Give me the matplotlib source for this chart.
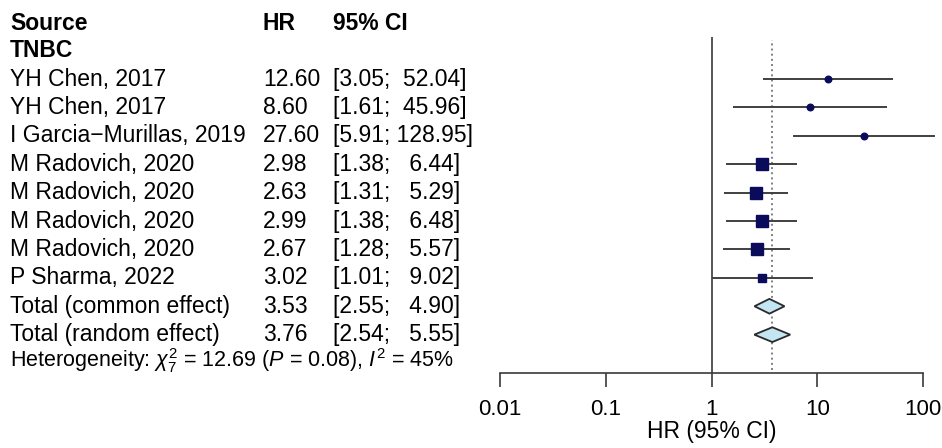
import numpy as np
import matplotlib.pyplot as plt
from matplotlib.ticker import FixedLocator, FixedFormatter, NullLocator
from matplotlib.transforms import blended_transform_factory

plt.rcParams['font.family'] = ['Liberation Sans', 'DejaVu Sans']
plt.rcParams['mathtext.fontset'] = 'custom'
plt.rcParams['mathtext.rm'] = 'Liberation Sans'
plt.rcParams['mathtext.it'] = 'Liberation Sans:italic'

# study-level estimates
studies = ["YH Chen, 2017", "YH Chen, 2017", "I Garcia\u2212Murillas, 2019",
           "M Radovich, 2020", "M Radovich, 2020", "M Radovich, 2020",
           "M Radovich, 2020", "P Sharma, 2022"]
hr = [12.60, 8.60, 27.60, 2.98, 2.63, 2.99, 2.67, 3.02]
lower = [3.05, 1.61, 5.91, 1.38, 1.31, 1.38, 1.28, 1.01]
upper = [52.04, 45.96, 128.95, 6.44, 5.29, 6.48, 5.57, 9.02]
weights = [6.0, 6.0, 6.0, 18.5, 18.5, 18.5, 18.5, 8.0]

# pooled estimates
pooled_labels = ["Total (common effect)", "Total (random effect)"]
pooled_hr = [3.53, 3.76]
pooled_lower = [2.55, 2.54]
pooled_upper = [4.90, 5.55]

heterogeneity = r"Heterogeneity: $\chi^2_7$ = 12.69 ($P$ = 0.08), $I^2$ = 45%"

ticks = [0.01, 0.1, 1, 10, 100]
tick_labels = ["0.01", "0.1", "1", "10", "100"]

line_col = "#3a3a3a"
fs = 16.5

fig = plt.figure(figsize=(9.42, 4.48), dpi=100)
ax = fig.add_axes([500 / 942, 1 - 373 / 448, 423 / 942, 336 / 448])
ax.set_xscale("log")
ax.set_xlim(0.01, 100)
ax.set_ylim(12.35, 0.52)

n = len(studies)
rows = np.arange(n) + 2
pooled_rows = np.arange(len(pooled_hr)) + n + 2

# reference lines
ax.axvline(1, color=line_col, lw=1.2, zorder=1)
ax.axvline(pooled_hr[1], ymin=0.01, ymax=0.99, color="#808080", ls=":", lw=1.4, zorder=1)

# confidence intervals and point estimates
ax.hlines(rows, lower, upper, color="#404040", lw=1.4, zorder=2, clip_on=False)
for r, h, w in zip(rows, hr, weights):
    side = 2.68 * np.sqrt(w) * 0.72
    marker = "o" if w < 7 else "s"
    ax.plot(h, r, marker=marker, ms=side, color="#0b0b5c", mec="#0b0b5c", zorder=3)

# pooled diamonds
for r, h, lo, up in zip(pooled_rows, pooled_hr, pooled_lower, pooled_upper):
    d = 0.26
    ax.fill([lo, h, up, h], [r, r - d, r, r + d], facecolor="#c4e6f2",
            edgecolor="#2a2a2a", lw=1.3, zorder=3)

# axis styling
for s in ["left", "top", "right"]:
    ax.spines[s].set_visible(False)
ax.spines["bottom"].set_color(line_col)
ax.spines["bottom"].set_linewidth(1.2)
ax.xaxis.set_major_locator(FixedLocator(ticks))
ax.xaxis.set_major_formatter(FixedFormatter(tick_labels))
ax.xaxis.set_minor_locator(NullLocator())
ax.set_yticks([])
ax.tick_params(axis="x", direction="out", length=10, width=1.2, color=line_col,
               pad=9, labelsize=16)
ax.set_xlabel("HR (95% CI)", fontsize=16.5, labelpad=0)

# text columns
tr = blended_transform_factory(fig.transFigure, ax.transData)
x_src, x_hr, x_ci = 10 / 942, 263 / 942, 333 / 942

ax.text(x_src, 0.06, "Source", transform=tr, fontsize=fs, fontweight="bold", va="center")
ax.text(x_hr, 0.06, "HR", transform=tr, fontsize=fs, fontweight="bold", va="center")
ax.text(x_ci, 0.06, "95% CI", transform=tr, fontsize=fs, fontweight="bold", va="center")
ax.text(x_src, 1.01, "TNBC", transform=tr, fontsize=fs, fontweight="bold", va="center")

all_lo = lower + pooled_lower
all_up = upper + pooled_upper
lo_w = max(len(f"{v:.2f}") for v in all_lo)
up_w = max(len(f"{v:.2f}") for v in all_up)


def ci_str(lo, up):
    return "[" + f"{lo:.2f}".rjust(lo_w) + "; " + f"{up:.2f}".rjust(up_w) + "]"


labels = studies + pooled_labels
all_hr = hr + pooled_hr
all_rows = list(rows) + list(pooled_rows)
for r, lab, h, lo, up in zip(all_rows, labels, all_hr, all_lo, all_up):
    ax.text(x_src, r, lab, transform=tr, fontsize=fs, va="center")
    ax.text(x_hr, r, f"{h:.2f}", transform=tr, fontsize=fs, va="center")
    ax.text(x_ci, r, ci_str(lo, up), transform=tr, fontsize=fs, va="center")

ax.text(x_src, 11.9, heterogeneity, transform=tr, fontsize=15.5, va="center")

fig.savefig("out.png", dpi=100)
